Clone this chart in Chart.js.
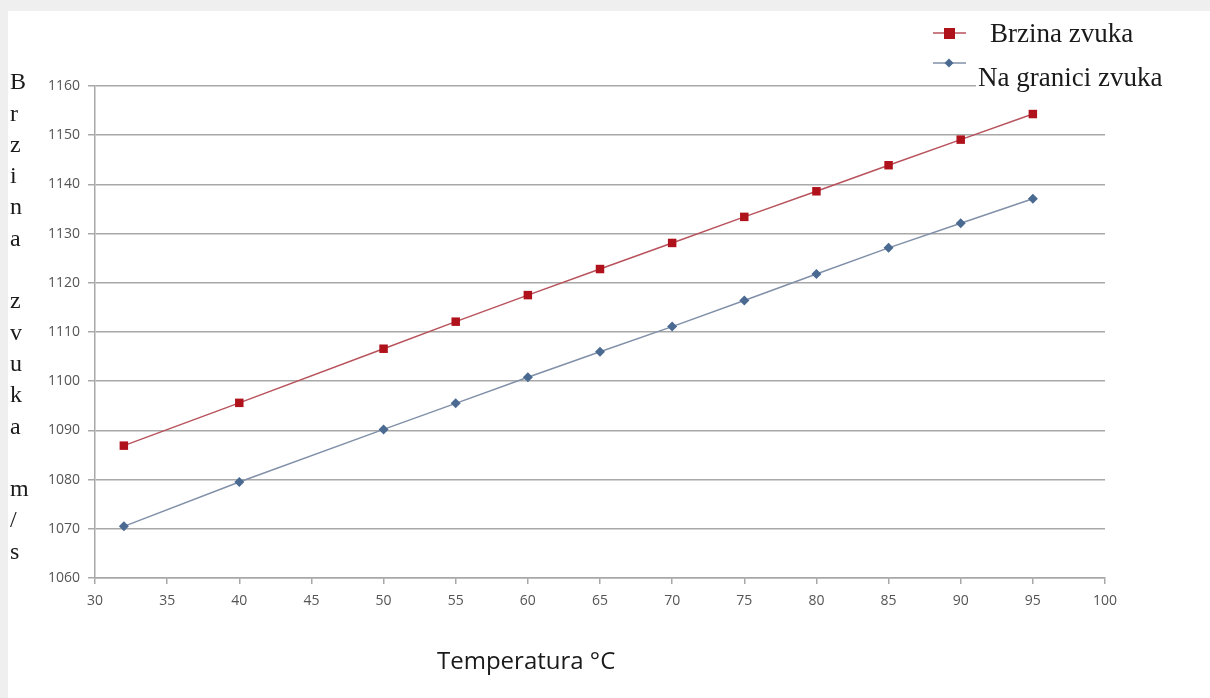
<!DOCTYPE html>
<html>
<head>
<meta charset="utf-8">
<script src="https://cdn.jsdelivr.net/npm/chart.js@4.4.1/dist/chart.umd.min.js"></script>
<style>
    html, body { margin: 0; padding: 0; background: #efefef; }
    #wrap { position: absolute; left: 0; top: 0; width: 1210px; height: 698px; }
</style>
</head>
<body>
<div id="wrap"><canvas id="chart" width="1210" height="698"></canvas></div>
<script>
const temperatures = [32, 40, 50, 55, 60, 65, 70, 75, 80, 85, 90, 95];
const brzinaZvuka = [1086.9, 1095.6, 1106.6, 1112.1, 1117.5, 1122.8, 1128.1, 1133.4, 1138.6, 1143.9, 1149.1, 1154.3];
const naGraniciZvuka = [1070.5, 1079.5, 1090.2, 1095.5, 1100.8, 1106.0, 1111.1, 1116.4, 1121.8, 1127.1, 1132.1, 1137.1];
const seriesNames = ['Brzina zvuka', 'Na granici zvuka'];
const yTitleLetters = ['B', 'r', 'z', 'i', 'n', 'a', '', 'z', 'v', 'u', 'k', 'a', '', 'm', '/', 's'];
const xTitle = 'Temperatura °C';

const RED_MARK = '#b0121c';
const RED_LINE = '#b8525c';
const BLUE_MARK = '#4a6a92';
const BLUE_LINE = '#8090a8';
const GRID = '#a8a8a8';
const TICK_TEXT = '#555555';

const toPoints = (ys) => ys.map((y, i) => ({ x: temperatures[i], y }));

const drawDiamond = (ctx, x, y, r, color) => {
    ctx.fillStyle = color;
    ctx.beginPath();
    ctx.moveTo(x, y - r);
    ctx.lineTo(x + r, y);
    ctx.lineTo(x, y + r);
    ctx.lineTo(x - r, y);
    ctx.closePath();
    ctx.fill();
};

// white card behind the chart, grey frame top/left
const background = {
    id: 'background',
    beforeDraw(chart) {
        const ctx = chart.ctx;
        ctx.save();
        ctx.fillStyle = '#efefef';
        ctx.fillRect(0, 0, chart.width, chart.height);
        ctx.fillStyle = '#ffffff';
        ctx.fillRect(8, 11, chart.width - 8, chart.height - 11);
        ctx.restore();
    },
};

// legend, stacked y title and x title drawn by hand
const decorations = {
    id: 'decorations',
    afterDraw(chart) {
        const ctx = chart.ctx;
        ctx.save();

        // legend
        ctx.lineWidth = 1.5;
        ctx.strokeStyle = RED_LINE;
        ctx.beginPath();
        ctx.moveTo(933, 33);
        ctx.lineTo(966, 33);
        ctx.stroke();
        ctx.fillStyle = RED_MARK;
        ctx.fillRect(944, 28, 11, 11);

        ctx.strokeStyle = BLUE_LINE;
        ctx.beginPath();
        ctx.moveTo(933, 63);
        ctx.lineTo(966, 63);
        ctx.stroke();
        drawDiamond(ctx, 949, 63, 4.5, BLUE_MARK);

        ctx.fillStyle = '#ffffff';
        ctx.fillRect(976, 66, 140, 26);

        ctx.fillStyle = '#1a1a1a';
        ctx.font = '27px "Liberation Serif", serif';
        ctx.textBaseline = 'alphabetic';
        ctx.textAlign = 'left';
        ctx.fillText(seriesNames[0], 990, 42);
        ctx.fillText(seriesNames[1], 978, 86);

        // y title, one letter per line
        ctx.font = '24px "Liberation Serif", serif';
        ctx.textBaseline = 'middle';
        yTitleLetters.forEach((ch, i) => {
            if (ch) ctx.fillText(ch, 10, 83 + i * 31.3);
        });

        // x title
        ctx.font = '24px "Open Sans", sans-serif';
        ctx.textBaseline = 'middle';
        ctx.fillText(xTitle, 437, 662);

        ctx.restore();
    },
};

new Chart(document.getElementById('chart'), {
    type: 'line',
    data: {
        datasets: [
            {
                label: seriesNames[0],
                data: toPoints(brzinaZvuka),
                borderColor: RED_LINE,
                borderWidth: 1.5,
                pointStyle: 'rect',
                pointRadius: 6,
                pointBackgroundColor: RED_MARK,
                pointBorderColor: RED_MARK,
                pointBorderWidth: 0,
                tension: 0,
            },
            {
                label: seriesNames[1],
                data: toPoints(naGraniciZvuka),
                borderColor: BLUE_LINE,
                borderWidth: 1.5,
                pointStyle: 'rectRot',
                pointRadius: 5,
                pointBackgroundColor: BLUE_MARK,
                pointBorderColor: BLUE_MARK,
                pointBorderWidth: 0,
                tension: 0,
            },
        ],
    },
    options: {
        responsive: false,
        animation: false,
        devicePixelRatio: 1,
        layout: { padding: { top: 86, right: 105, left: 0, bottom: 0 } },
        plugins: {
            legend: { display: false },
            tooltip: { enabled: false },
        },
        scales: {
            x: {
                type: 'linear',
                min: 30,
                max: 100,
                ticks: {
                    stepSize: 5,
                    padding: 9,
                    color: TICK_TEXT,
                    font: { family: 'Open Sans', size: 14 },
                },
                grid: {
                    drawOnChartArea: false,
                    drawTicks: true,
                    tickLength: 6,
                    color: GRID,
                    lineWidth: 1.5,
                },
                border: { color: GRID, width: 1.5 },
                afterFit: (scale) => { scale.height = 120; },
            },
            y: {
                min: 1060,
                max: 1160,
                ticks: {
                    stepSize: 10,
                    padding: 8,
                    color: TICK_TEXT,
                    font: { family: 'Open Sans', size: 14 },
                    callback: (v) => String(v),
                },
                grid: {
                    color: GRID,
                    lineWidth: 1.5,
                    tickLength: 7,
                },
                border: { color: GRID, width: 1.5 },
                afterFit: (scale) => { scale.width = 95; },
            },
        },
    },
    plugins: [background, decorations],
});
</script>
</body>
</html>
